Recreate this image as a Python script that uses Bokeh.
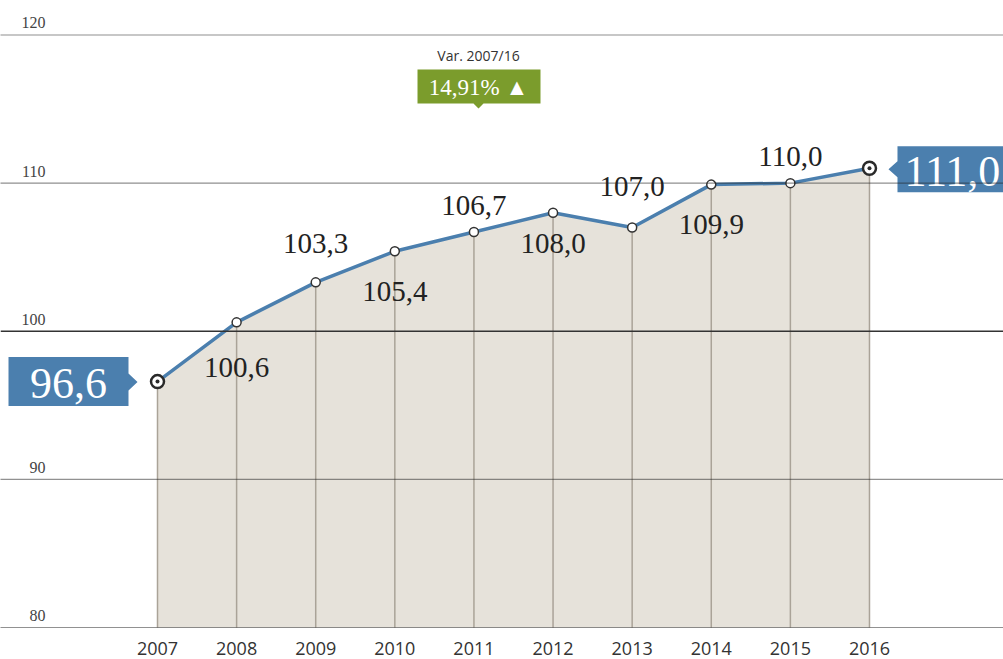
from bokeh.plotting import figure
from bokeh.models import Range1d, Span, ColumnDataSource
from bokeh.core.properties import value
from bokeh.embed import file_html
from bokeh.resources import INLINE

# ---------------- data ----------------
years = [2007, 2008, 2009, 2010, 2011, 2012, 2013, 2014, 2015, 2016]
values = [96.6, 100.6, 103.3, 105.4, 106.7, 108.0, 107.0, 109.9, 110.0, 111.0]
value_labels = ["96,6", "100,6", "103,3", "105,4", "106,7", "108,0", "107,0", "109,9", "110,0", "111,0"]
year_labels = ["2007", "2008", "2009", "2010", "2011", "2012", "2013", "2014", "2015", "2016"]
grid_ticks = [80, 90, 100, 110, 120]
grid_labels = ["80", "90", "100", "110", "120"]
var_title = "Var. 2007/16"

# ---------------- layout / style ----------------
W, H = 1003, 659
X0, X1 = 2005.0154, 2017.694
Y0, Y1 = 77.840, 122.329
PXX = W / (X1 - X0)
PXY = H / (Y1 - Y0)
base = grid_ticks[0]
label_dy = [45, -39, 40, -27, 31, -41, 40, -27]  # px offsets of inner value labels

BLUE = "#4b7fae"
GREEN = "#7b9c2c"
AREA = "#e6e2da"
VLINE = "#aaa398"
DARK = "#2a2a2a"
SERIF = "Liberation Serif"
SANS = "Open Sans"

p = figure(width=W, height=H, output_backend="svg", toolbar_location=None,
           x_range=Range1d(X0, X1), y_range=Range1d(Y0, Y1),
           min_border=0, outline_line_color=None)
p.axis.visible = False
p.grid.visible = False
p.background_fill_color = "white"


def poly(ax, ay, pts):
    return ([ax + dx / PXX for dx, dy in pts],
            [ay - dy / PXY for dx, dy in pts])


# area
p.varea(x=years, y1=[base] * len(years), y2=values, fill_color=AREA)

# gridlines
for t in grid_ticks:
    if t == 100:
        p.add_layout(Span(location=t, dimension="width", line_color="#333333", line_width=1.5))
    else:
        p.add_layout(Span(location=t, dimension="width", line_color="#222222",
                          line_width=1.2, line_dash="1 1"))

# y tick labels
p.text(x=[X0] * len(grid_ticks), y=grid_ticks, text=grid_labels, x_offset=45,
       y_offset=-12, text_align="right", text_baseline="middle", text_font=value(SERIF),
       text_font_size="16px", text_color="#444444")

# vertical drop lines
p.segment(x0=years, y0=[base] * len(years), x1=years, y1=values, line_color=VLINE, line_width=1.5)

# line
p.line(years, values, line_color=BLUE, line_width=3.5)

# points
p.scatter(years[1:-1], values[1:-1], size=9, fill_color="white", line_color="#333333", line_width=1.5)
ends_x = [years[0], years[-1]]
ends_y = [values[0], values[-1]]
p.scatter(ends_x, ends_y, size=13, fill_color="white", line_color=DARK, line_width=2.5)
p.scatter(ends_x, ends_y, size=4, fill_color=DARK, line_color=None)

# inner value labels
src = ColumnDataSource(dict(x=years[1:-1], y=values[1:-1], t=value_labels[1:-1], dy=label_dy))
p.text(x="x", y="y", text="t", y_offset="dy", source=src, text_align="center",
       text_baseline="middle", text_font=value(SERIF), text_font_size="29px", text_color="#222222")

# callout first value
xs, ys = poly(years[0], values[0], [(-149, -24.5), (-29, -24.5), (-29, -8), (-20, 0.5),
                                    (-29, 9), (-29, 24.5), (-149, 24.5)])
p.patch(xs, ys, fill_color=BLUE, line_color=None)
p.text(x=[years[0]], y=[values[0]], text=[value_labels[0]], x_offset=-89, y_offset=2,
       text_align="center", text_baseline="middle", text_font=value(SERIF),
       text_font_size="44px", text_color="white")

# callout last value
xs, ys = poly(years[-1], values[-1], [(28, -22), (150, -22), (150, 24), (28, 24),
                                      (28, 9), (19, 1), (28, -7)])
p.patch(xs, ys, fill_color=BLUE, line_color=None)
p.text(x=[years[-1]], y=[values[-1]], text=[value_labels[-1]], x_offset=83, y_offset=3,
       text_align="center", text_baseline="middle", text_font=value(SERIF),
       text_font_size="44px", text_color="white")

# variation badge
pct = (values[-1] / values[0] - 1) * 100
pct_label = f"{pct:.2f}".replace(".", ",") + "% \u25B2"
ax = years[0] + 321 / PXX
ay = 100 + 222.75 / PXY
xs, ys = poly(ax, ay, [(-61, -39), (62, -39), (62, -5), (5, -5), (0, 0), (-5, -5), (-61, -5)])
p.patch(xs, ys, fill_color=GREEN, line_color=None)
p.text(x=[ax], y=[ay], text=[pct_label], y_offset=-21, text_align="center",
       text_baseline="middle", text_font=value(SERIF), text_font_size="23px", text_color="white")
p.text(x=[ax], y=[ay], text=[var_title], y_offset=-53, text_align="center",
       text_baseline="middle", text_font=value(SANS), text_font_size="14px", text_color="#333333")

# year labels
p.text(x=years, y=[base] * len(years), text=year_labels, y_offset=21, text_align="center",
       text_baseline="middle", text_font=value(SANS), text_font_size="18px",
       text_color="#333333")

open("out.html", "w").write(file_html(p, INLINE))
